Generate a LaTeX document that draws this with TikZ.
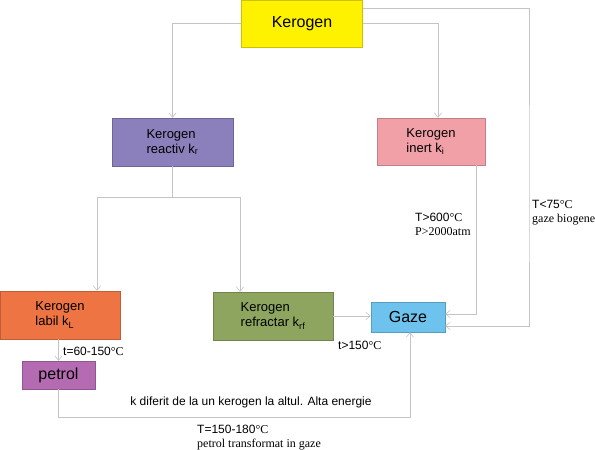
\documentclass[tikz,border=0pt]{standalone}
\usepackage{fontspec}
\setmainfont{Liberation Sans}
\newfontfamily\tms{Liberation Serif}
\usetikzlibrary{arrows.meta}
\definecolor{kyel}{HTML}{FFF200}
\definecolor{kpur}{HTML}{8B80BC}
\definecolor{kpink}{HTML}{F2A0A7}
\definecolor{korg}{HTML}{EE7443}
\definecolor{kgrn}{HTML}{8EA55F}
\definecolor{kmag}{HTML}{B46BB1}
\definecolor{kblu}{HTML}{6EC3EE}
\definecolor{lgray}{HTML}{C4C4C4}
\tikzset{
  kbox/.style={draw=#1!80!black,fill=#1,line width=0.4pt,align=left,font=\fontsize{13}{15}\selectfont,inner sep=2pt},
  link/.style={draw=lgray,line width=0.6pt},
  arr/.style={link,-{Straight Barb[length=1.6mm,width=2.6mm]}},
  lbl/.style={font=\fontsize{12}{14}\selectfont,inner sep=0pt,align=left}}
\begin{document}
\begin{tikzpicture}[x=1pt,y=-1pt]
\useasboundingbox (0,0) rectangle (595,450);
% boxes
\node[kbox=kyel,minimum width=121pt,minimum height=47pt,font=\fontsize{16}{18}\selectfont] (ker) at (302,23.5) {Kerogen};
\node[kbox=kpur,minimum width=121pt,minimum height=48pt] (reactiv) at (172.5,142) {Kerogen\\reactiv k\textsubscript{r}};
\node[kbox=kpink,minimum width=108pt,minimum height=47pt] (inert) at (431,141.5) {Kerogen\\inert k\textsubscript{i}};
\node[kbox=korg,minimum width=120pt,minimum height=48pt] (labil) at (60,315) {Kerogen\\labil k\textsubscript{L}};
\node[kbox=kgrn,minimum width=120pt,minimum height=48pt] (refr) at (273,316) {Kerogen\\refractar k\textsubscript{rf}};
\node[kbox=kmag,minimum width=73pt,minimum height=28pt,font=\fontsize{16}{18}\selectfont] (petrol) at (58.5,375) {petrol};
\node[kbox=kblu,minimum width=74pt,minimum height=30pt,font=\fontsize{16}{18}\selectfont] (gaze) at (408,317) {Gaze};
% connectors
\coordinate (fork) at (172.5,197);
\coordinate (bio) at (529,200);
\coordinate (low) at (58.5,417);
\draw[arr] (ker.west) -| (reactiv.north);
\draw[arr] (ker.east) -| ([xshift=7pt]inert.north);
\draw[arr] ([yshift=15pt]ker.east) -| (bio) |- ([yshift=-9pt]gaze.east);
\draw[arr] ([xshift=45pt]inert.south) |- ([yshift=3pt]gaze.east);
\draw[link] (reactiv.south) -- (fork);
\draw[arr] (fork) -| ([xshift=37pt]labil.north);
\draw[arr] (fork) -| ([xshift=-33pt]refr.north);
\draw[arr] (refr.east) -- (refr.east -| gaze.west);
\draw[arr] (labil.south -| petrol.north) -- (petrol.north);
\draw[arr] (petrol.south) -- (low) -| ([xshift=2pt]gaze.south);
% labels
\node[lbl,anchor=west] (tlab) at (63,351) {t=60-150{\tms °C}};
\node[lbl,anchor=west] (trf) at (338,345) {t>150{\tms °C}};
\node[lbl,anchor=north west] (tin) at (415,213) {T>600{\tms °C}\\{\tms P>2000atm}};
\node[lbl,anchor=north west] (tbio) at (532,200) {T<75{\tms °C}\\{\tms gaze biogene}};
\node[lbl] (kdif) at (251,402) {k diferit de la un kerogen la altul. Alta energie};
\node[lbl,anchor=north west] (tpet) at (197,425) {T=150-180{\tms °C}\\{\tms petrol transformat in gaze}};
\end{tikzpicture}
\end{document}
